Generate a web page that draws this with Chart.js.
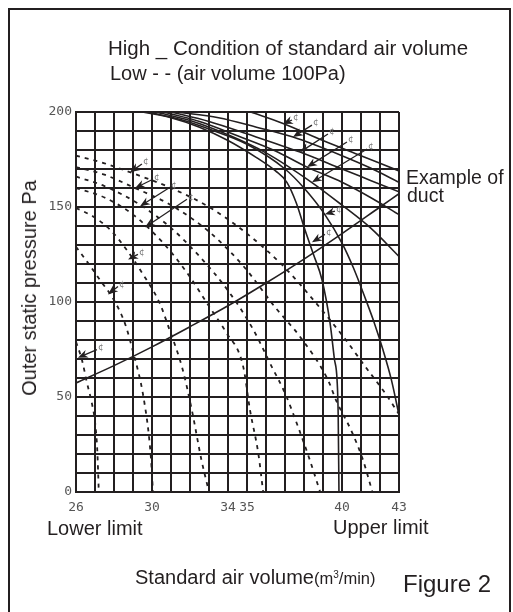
<!DOCTYPE html>
<html>
<head>
<meta charset="utf-8">
<script src="https://cdn.jsdelivr.net/npm/chart.js@4.4.0/dist/chart.umd.min.js"></script>
<style>
  html, body { margin: 0; padding: 0; background: #fff; }
  body { width: 513px; height: 612px; position: relative; overflow: hidden;
         font-family: "Liberation Sans", Arial, sans-serif; color: #231f20; }
  #frame { position: absolute; left: 8px; top: 8px; width: 503px; height: 640px;
           border: 2px solid #231f20; box-sizing: border-box; }
  canvas { position: absolute; left: 0; top: 0; }
  .t { position: absolute; white-space: nowrap; line-height: 1; color: #231f20; }
</style>
</head>
<body>
<div id="frame"></div>
<canvas id="fanChart" width="513" height="612"></canvas>

<div class="t" style="left:108px; top:37.5px; font-size:20.5px;">High _ Condition of standard air volume</div>
<div class="t" style="left:110px; top:63px; font-size:20px;">Low - - (air volume 100Pa)</div>
<div class="t" style="left:406px; top:168px; font-size:19.5px;">Example of</div>
<div class="t" style="left:407px; top:186px; font-size:19.5px;">duct</div>
<div class="t" style="left:47px; top:518px; font-size:20px;">Lower limit</div>
<div class="t" style="left:333px; top:517px; font-size:20px;">Upper limit</div>
<div class="t" style="left:135px; top:567px; font-size:20px;">Standard air volume<span style="font-size:16.5px">(m<sup style="font-size:10px">3</sup>/min)</span></div>
<div class="t" style="left:403px; top:572px; font-size:24px;">Figure 2</div>
<div class="t" style="left:29px; top:288px; font-size:20px; transform: translate(-50%,-50%) rotate(-90deg);">Outer static pressure Pa</div>

<script>
// axis ticks
const xTickLabels = [26, 30, 34, 35, 40, 43];
const yTickLabels = [0, 50, 100, 150, 200];

// High (solid) fan curves, [air volume, pressure]
const high1 = [[29.5,200],[31,197],[32.5,192],[34,185],[35.5,176],[36.5,169],[37.1,163],[37.6,152],[38.05,138],[38.5,125],[38.95,111.6],[39.37,89],[39.6,70],[39.74,59],[39.8,40],[39.84,0]];
const high2 = [[29.8,200],[31.5,196],[33,191],[35,183],[37,170],[38,160],[39.1,146],[40,131],[40.6,118],[41.26,101],[41.7,89],[42.16,74.7],[42.6,59],[43,40.5]];
const high3 = [[30.2,200],[32,195.5],[34,188],[36,178.5],[38.4,163],[40,151],[41.5,139],[43,124]];
const high4 = [[30.6,200],[32.5,195],[34.5,187.5],[36.5,179.5],[38.16,171],[40,163],[41.5,155],[43,146]];
const high5 = [[31.0,200],[33,195],[35,188.5],[37.79,178.9],[40,170],[41.5,164],[43,158]];
const high6 = [[31.3,200],[33.5,197],[35.5,192],[37.42,186.8],[40,177],[41.5,170.5],[43,163]];
const high7 = [[35.2,200],[36.9,194],[39,185],[41,177],[43,169]];

// Low (dashed) fan curves
const low1 = [[26,79],[26.3,70],[26.58,57.4],[26.85,46],[27.0,37],[27.12,22],[27.2,0]];
const low2 = [[26,129],[26.6,121],[27.26,111.6],[28.0,101],[28.6,88],[29.05,72],[29.4,58],[29.6,47],[29.8,33],[29.95,17],[30.05,0]];
const low3 = [[26,149.5],[26.9,145],[27.8,138],[28.7,127],[29.5,115],[30.4,99.5],[30.9,86],[31.6,65],[32.1,43],[32.6,17],[33,0]];
const low4 = [[26,160],[27.5,155],[29,146],[30.5,132],[31.8,116],[33.05,97],[33.9,84],[34.8,66],[35.16,43],[35.6,20],[35.85,0]];
const low5 = [[26,166],[27.5,161],[29.4,151],[31,139],[32.5,124],[34,106],[35.3,86],[36.3,66],[37,52],[37.7,34],[38.3,17],[38.85,0]];
const low6 = [[26,171],[27.5,167],[29.1,160],[31,151],[33,137],[34.8,119],[36.5,97],[37.8,81.6],[39.26,59],[39.7,48],[40.5,32],[41.1,17],[41.6,0]];
const low7 = [[26,177],[27.5,173],[28.84,168.3],[31,160],[33,150],[35,136],[37,118],[38.5,101],[40.05,82],[41.3,65],[42.2,53],[43,41]];

// example duct resistance line
const duct = [[26,57.4],[28,66.5],[30,76.4],[32,87],[34,98],[36,110],[38,122.6],[40,136],[42,150],[43,157]];

// arrow marks: [tipX, tipY, tailX, tailY]
const highArrows = [[36.89,193.7,37.37,195.8],[37.42,186.8,38.42,193.1],[37.79,178.9,39.26,188.4],[38.16,171,40.26,184.2],[38.42,163,41.32,180.5],[39.1,146.2,39.63,147.8],[38.42,131.4,39.1,135.6]];
const lowArrows = [[28.84,168.3,29.47,172.6],[29.1,159.9,30.05,164.6],[29.37,150.4,30.95,160.4],[29.63,139.3,31.84,154.1],[28.74,122.4,29.26,125.1],[27.68,104,28.21,108.2],[26.1,70.7,27.1,74.9]];

const ink = '#231f20';

function toPts(arr) {
    return arr.map(p => ({ x: p[0], y: p[1] }));
}

function curve(arr, dashed) {
    return {
        data: toPts(arr),
        showLine: true,
        borderColor: ink,
        borderWidth: dashed ? 1.8 : 1.6,
        borderDash: dashed ? [4, 5] : [],
        pointRadius: 0,
        cubicInterpolationMode: 'monotone',
        fill: false
    };
}

// arrows with the little marker next to their tails
const arrowMarks = {
    id: 'arrowMarks',
    afterDatasetsDraw(chart) {
        const { ctx, scales: { x, y } } = chart;
        ctx.save();
        highArrows.concat(lowArrows).forEach(a => {
            const tx = x.getPixelForValue(a[0]), ty = y.getPixelForValue(a[1]);
            const sx = x.getPixelForValue(a[2]), sy = y.getPixelForValue(a[3]);
            const ang = Math.atan2(ty - sy, tx - sx);
            const c = Math.cos(ang), s = Math.sin(ang);
            ctx.strokeStyle = ink;
            ctx.fillStyle = ink;
            ctx.lineWidth = 1.3;
            ctx.beginPath();
            ctx.moveTo(sx, sy);
            ctx.lineTo(tx - 6 * c, ty - 6 * s);
            ctx.stroke();
            ctx.beginPath();
            ctx.moveTo(tx, ty);
            ctx.lineTo(tx - 10 * c + 4 * s, ty - 10 * s - 4 * c);
            ctx.lineTo(tx - 7 * c, ty - 7 * s);
            ctx.lineTo(tx - 10 * c - 4 * s, ty - 10 * s + 4 * c);
            ctx.closePath();
            ctx.fill();
            ctx.fillStyle = '#777';
            ctx.font = '9px "DejaVu Sans"';
            ctx.textBaseline = 'middle';
            ctx.fillText('¢', sx + 1, sy - 2);
        });
        ctx.restore();
    }
};

const ctx = document.getElementById('fanChart').getContext('2d');
const fanChart = new Chart(ctx, {
    type: 'scatter',
    data: {
        datasets: [
            curve(high1), curve(high2), curve(high3), curve(high4), curve(high5), curve(high6), curve(high7),
            curve(low1, true), curve(low2, true), curve(low3, true), curve(low4, true), curve(low5, true), curve(low6, true), curve(low7, true),
            curve(duct)
        ]
    },
    options: {
        responsive: false,
        animation: false,
        events: [],
        layout: { padding: { top: 112, right: 114, left: 0, bottom: 0 } },
        plugins: { legend: { display: false }, tooltip: { enabled: false } },
        scales: {
            x: {
                type: 'linear',
                min: 26,
                max: 43,
                afterFit: s => { s.height = 120; },
                afterBuildTicks: s => { s.ticks = []; for (let v = 26; v <= 43; v++) s.ticks.push({ value: v }); },
                grid: { color: ink, lineWidth: 2, drawTicks: false },
                border: { color: ink, width: 2 },
                ticks: {
                    autoSkip: false,
                    maxRotation: 0,
                    padding: 8,
                    color: '#555',
                    font: { family: 'DejaVu Sans Mono', size: 13 },
                    callback: v => xTickLabels.includes(v) ? String(v) : ''
                }
            },
            y: {
                min: 0,
                max: 200,
                afterFit: s => { s.width = 76; },
                grid: { color: ink, lineWidth: 2, drawTicks: false },
                border: { color: ink, width: 2 },
                ticks: {
                    stepSize: 10,
                    padding: 4,
                    color: '#555',
                    font: { family: 'DejaVu Sans Mono', size: 13 },
                    callback: v => yTickLabels.includes(v) ? String(v) : ''
                }
            }
        }
    },
    plugins: [arrowMarks]
});
</script>
</body>
</html>
